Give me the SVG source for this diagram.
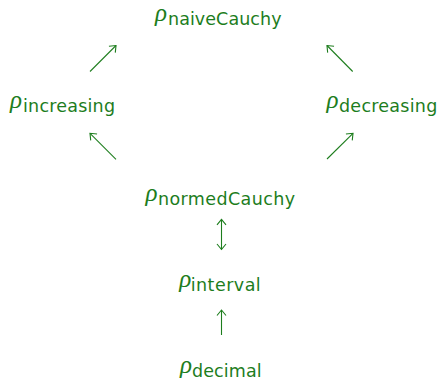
<svg xmlns="http://www.w3.org/2000/svg" width="440" height="380" viewBox="0 0 440 380">
<style>
text { fill: #1d7d1d; }
.rho { font-family: "Liberation Serif", "DejaVu Serif", serif; font-style: italic; font-size: 25px; }
.sub { font-family: "DejaVu Sans", "Liberation Sans", sans-serif; font-size: 17.5px; }
.conn { stroke: #1d7d1d; stroke-width: 1.1; fill: none; }
</style>
<defs>
<marker id="head" viewBox="-7 -6 8 12" markerWidth="8" markerHeight="12" refX="0" refY="0" orient="auto-start-reverse" markerUnits="userSpaceOnUse">
<path d="M-5.5,-4.5 L0,0 L-5.5,4.5" fill="none" stroke="#1d7d1d" stroke-width="1.1"/>
</marker>
</defs>
<g id="connectors">
<line class="conn" x1="90" y1="71.5" x2="116" y2="45.5" marker-end="url(#head)"/>
<line class="conn" x1="352.7" y1="71.5" x2="327" y2="45.5" marker-end="url(#head)"/>
<line class="conn" x1="116" y1="159.3" x2="90" y2="133.3" marker-end="url(#head)"/>
<line class="conn" x1="327" y1="159" x2="353" y2="133.3" marker-end="url(#head)"/>
<line class="conn" x1="221.5" y1="219.3" x2="221.5" y2="249.5" marker-start="url(#head)" marker-end="url(#head)"/>
<line class="conn" x1="221.5" y1="335" x2="221.5" y2="310" marker-end="url(#head)"/>
</g>
<g id="naiveCauchy">
<text class="rho" x="155" y="21.3">ρ</text>
<text class="sub" x="168" y="25" textLength="113.5">naiveCauchy</text>
</g>
<g id="increasing">
<text class="rho" x="10" y="108">ρ</text>
<text class="sub" x="23" y="111.7" textLength="92">increasing</text>
</g>
<g id="decreasing">
<text class="rho" x="326.5" y="108">ρ</text>
<text class="sub" x="339" y="111.7" textLength="98.3">decreasing</text>
</g>
<g id="normedCauchy">
<text class="rho" x="145.5" y="201.2">ρ</text>
<text class="sub" x="158" y="205" textLength="137">normedCauchy</text>
</g>
<g id="interval">
<text class="rho" x="179.3" y="286.9">ρ</text>
<text class="sub" x="190.7" y="290.7" textLength="70">interval</text>
</g>
<g id="decimal">
<text class="rho" x="180" y="372.9">ρ</text>
<text class="sub" x="192" y="376.7" textLength="69.7">decimal</text>
</g>
</svg>
